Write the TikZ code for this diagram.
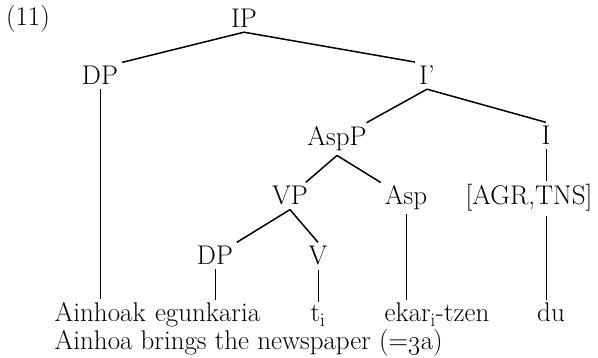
\documentclass[tikz,border=0pt]{standalone}
\usepackage{fix-cm}
\usetikzlibrary{positioning}

\begin{document}
\begin{tikzpicture}[x=1pt, y=-1pt,
    cat/.style={font=\fontsize{27}{32}\selectfont, inner sep=4pt, anchor=base},
    word/.style={font=\fontsize{27}{32}\selectfont, inner sep=0.5pt},
    branch/.style={line width=1.5pt},
    stem/.style={line width=0.7pt}]
        \useasboundingbox (0,0) rectangle (598,358);

        % Example number
        \node[cat] (exno) at (28,26) {(11)};

        % Categories
        \node[cat] (ip) at (244,28) {IP};
        \node[cat] (dpsubj) at (100,85) {DP};
        \node[cat] (ibar) at (427,85) {I'};
        \node[cat] (aspp) at (337,146) {AspP};
        \node[cat] (infl) at (546,145) {I};
        \node[cat] (vp) at (290,205) {VP};
        \node[cat] (asp) at (406,205) {Asp};
        \node[cat] (feat) at (529,205) {[AGR,TNS]};
        \node[cat] (dpobj) at (215,265) {DP};
        \node[cat] (verb) at (318,265) {V};

        % Words
        \node[word, anchor=base west] (ainhoak) at (54,322) {Ainhoak};
        \node[word, base right=8pt of ainhoak] (egunkaria) {egunkaria};
        \node[word, anchor=base] (trace) at (318,322) {t\smash{$_{\mathrm{i}}$}};
        \node[word, anchor=base west] (ekar) at (384,322) {ekar\smash{$_{\mathrm{i}}$}-tzen};
        \node[word, anchor=base] (du) at (551,322) {du};
        \node[word, anchor=base west] (gloss) at (54,350) {Ainhoa brings the newspaper (=\oldstylenums{3}a)};

        % Branches
        \draw[branch] (ip.south) -- (dpsubj.north east);
        \draw[branch] (ip.south) -- (ibar.north west);
        \draw[branch] (ibar.south) -- (aspp);
        \draw[branch] (ibar.south) -- (infl.north);
        \draw[branch] (aspp.south) -- (vp);
        \draw[branch] (aspp.south) -- (asp);
        \draw[branch] (vp.south) -- (dpobj);
        \draw[branch] (vp.south) -- (verb.north);

        % Lines down to the words
        \draw[stem] (dpsubj.south) -- ([yshift=3pt]dpsubj.south |- ainhoak.north);
        \draw[stem] (dpobj.south) -- ([yshift=3pt]dpobj.south |- egunkaria.north);
        \draw[stem] (verb.south) -- ([yshift=3pt]trace.north);
        \draw[stem] (asp.south) -- ([yshift=3pt]asp.south |- ekar.north);
        \draw[stem] (infl.south) -- (infl.south |- feat.north);
        \draw[stem] (infl.south |- feat.south) -- ([yshift=3pt]infl.south |- du.north);

    \end{tikzpicture}
\end{document}
